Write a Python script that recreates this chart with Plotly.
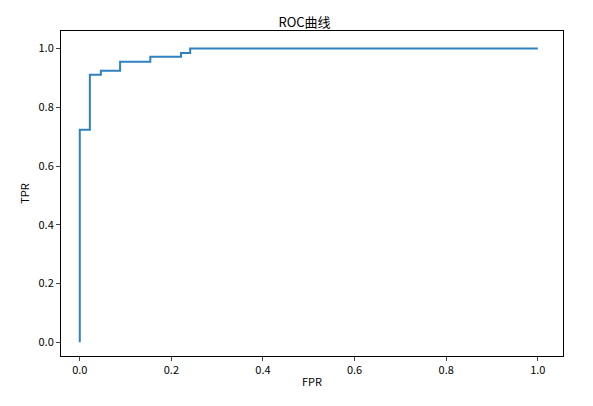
import plotly.graph_objects as go

fpr = [0.0, 0.0, 0.022, 0.022, 0.046, 0.046, 0.088, 0.088, 0.154, 0.154, 0.221, 0.221, 0.241, 0.241, 1.0]
tpr = [0.0, 0.724, 0.724, 0.911, 0.911, 0.925, 0.925, 0.955, 0.955, 0.972, 0.972, 0.985, 0.985, 1.0, 1.0]
ticks = [0.0, 0.2, 0.4, 0.6, 0.8, 1.0]
tick_text = ["0.0", "0.2", "0.4", "0.6", "0.8", "1.0"]

fig = go.Figure(go.Scatter(x=fpr, y=tpr, mode="lines",
                           line=dict(color="#2e82c0", width=2)))

axis = dict(showgrid=False, zeroline=False, showline=True, mirror=True,
            linecolor="black", linewidth=1, ticks="outside", ticklen=4,
            tickvals=ticks, ticktext=tick_text,
            tickfont=dict(size=11, color="black"))
fig.update_layout(
    width=593, height=406,
    margin=dict(l=53, r=38, t=23, b=58),
    plot_bgcolor="white", paper_bgcolor="white",
    font=dict(family="Noto Sans CJK SC, DejaVu Sans", color="black"),
    title=dict(text="ROC曲线", x=0.5, xanchor="center", y=0.975, font=dict(size=13)),
    xaxis=dict(axis, range=[-0.041, 1.055],
               title=dict(text="FPR", font=dict(size=11), standoff=2)),
    yaxis=dict(axis, range=[-0.047, 1.06],
               title=dict(text="TPR", font=dict(size=11), standoff=6)),
    showlegend=False,
)
fig.write_html("out.html")
